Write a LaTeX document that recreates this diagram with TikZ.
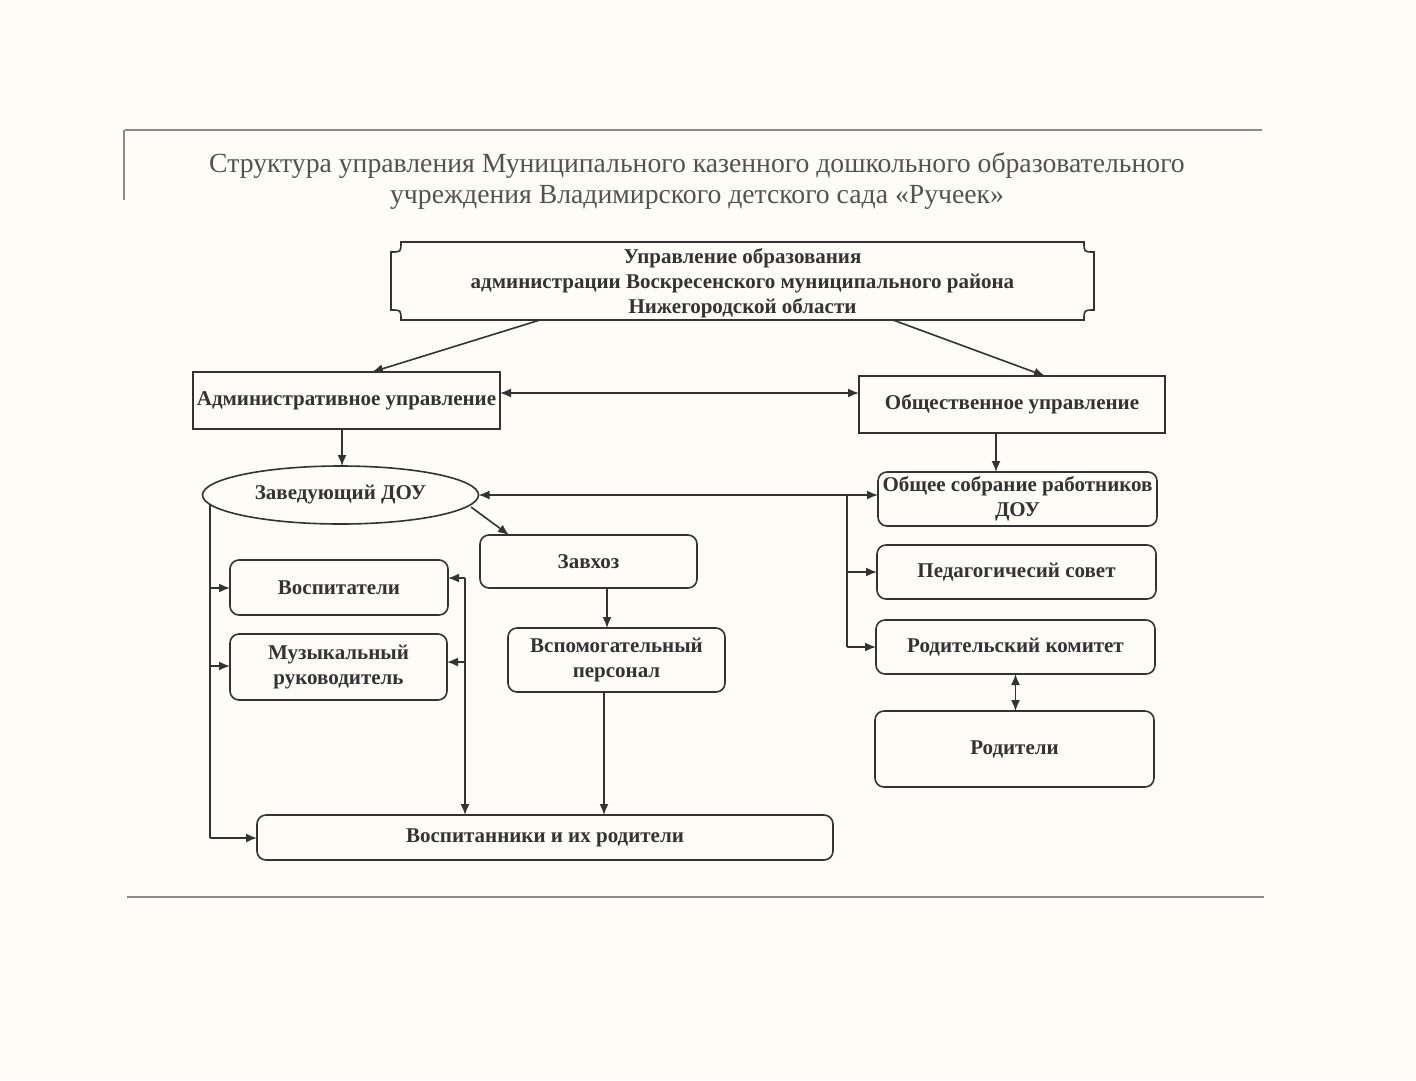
\documentclass[tikz,border=0pt]{standalone}
\usepackage{fontspec}
\setmainfont{Liberation Serif}
\usetikzlibrary{arrows.meta,shapes.geometric}
\definecolor{paper}{HTML}{FDFCF6}
\definecolor{ink}{HTML}{333333}
\definecolor{rule}{HTML}{8A8A8A}
\tikzset{
  box/.style={draw=ink, line width=1.6pt, inner sep=0pt, outer sep=0pt, align=center,
    text=ink, font=\bfseries\fontsize{21}{25}\selectfont},
  rbox/.style={box, rounded corners=9pt},
  conn/.style={draw=ink, line width=1.6pt},
  arr/.style={conn, -{Latex[length=11pt,width=9pt]}},
  darr/.style={conn, {Latex[length=11pt,width=9pt]}-{Latex[length=11pt,width=9pt]}},
}
\begin{document}
\begin{tikzpicture}[x=1pt,y=-1pt]
\fill[paper] (0,0) rectangle (1416,1080);
\useasboundingbox (0,0) rectangle (1416,1080);
% frame rules
\draw[rule, line width=1.6pt] (125,130) -- (1262,130);
\draw[rule, line width=1.2pt] (124,130) -- (124,200);
\draw[rule, line width=1.6pt] (127,897) -- (1264,897);
% title
\node[text=ink!85, font=\fontsize{27.7}{31}\selectfont, align=center] (title) at (697,181)
  {Структура управления Муниципального казенного дошкольного образовательного\\
   учреждения Владимирского детского сада «Ручеек»};
% top plaque
\node[box, draw=none, minimum width=703pt, minimum height=78pt] (top) at (742.5,283)
  {Управление образования\\администрации Воскресенского муниципального района\\Нижегородской области};
\draw[ink, line width=1.6pt]
  (401,242) -- (1084,242) .. controls (1084,252) .. (1094,252)
  -- (1094,310) .. controls (1084,310) .. (1084,320)
  -- (401,320) .. controls (401,310) .. (391,310)
  -- (391,252) .. controls (401,252) .. (401,242) -- cycle;
% boxes
\node[box, minimum width=307pt, minimum height=57pt] (admin) at (346.5,400.5) {Административное управление};
\node[box, minimum width=306pt, minimum height=57pt] (obsch) at (1012,404.5) {Общественное управление};
\node[box, ellipse, minimum width=276pt, minimum height=58pt] (zav) at (340.5,495) {Заведующий ДОУ};
\node[rbox, minimum width=217pt, minimum height=53pt] (zavhoz) at (588.5,561.5) {Завхоз};
\node[rbox, minimum width=217pt, minimum height=64pt] (vspom) at (616.5,660) {Вспомогательный\\персонал};
\node[rbox, minimum width=218pt, minimum height=55pt] (vosp) at (339,587.5) {Воспитатели};
\node[rbox, minimum width=217pt, minimum height=66pt] (muz) at (338.5,667) {Музыкальный\\руководитель};
\node[rbox, minimum width=576pt, minimum height=45pt] (vospit) at (545,837.5) {Воспитанники и их родители};
\node[rbox, minimum width=279pt, minimum height=54pt] (obshee) at (1017.5,499) {Общее собрание работников\\ДОУ};
\node[rbox, minimum width=279pt, minimum height=54pt] (ped) at (1016.5,572) {Педагогичесий совет};
\node[rbox, minimum width=279pt, minimum height=54pt] (rodkom) at (1015.5,647) {Родительский комитет};
\node[rbox, minimum width=279pt, minimum height=76pt] (rod) at (1014.5,749) {Родители};
% helper coordinates
\coordinate (t1) at (540,320);
\coordinate (t2) at (893,320);
\coordinate (z1) at (471,507);
\coordinate (L0) at (210,505);
\coordinate (L1) at (210,588);
\coordinate (L2) at (210,666);
\coordinate (L3) at (210,838);
\coordinate (R0) at (465,578);
\coordinate (R1) at (465,662);
\coordinate (J0) at (847,495);
\coordinate (J1) at (847,572);
\coordinate (J2) at (847,647);
% connectors
\draw[arr] (t1) -- ([xshift=25.5pt]admin.north);
\draw[arr] (t2) -- ([xshift=33pt]obsch.north);
\draw[darr] ([yshift=7.5pt]admin.east) -- ([yshift=7.5pt]admin.east -| obsch.west);
\draw[arr] ([xshift=-4.5pt]admin.south) -- ([xshift=-4.5pt]admin.south |- zav.north);
\draw[darr] (zav.east) -- (zav.east -| obshee.west);
\draw[conn] (J0) -- (J2);
\draw[arr] (J1) -- (J1 -| ped.west);
\draw[arr] (J2) -- (J2 -| rodkom.west);
\draw[arr] ([xshift=-16pt]obsch.south) -- ([xshift=-16pt]obsch.south |- obshee.north);
\draw[arr] (z1) -- ([xshift=29pt]zavhoz.north west);
\draw[arr] ([xshift=18.5pt]zavhoz.south) -- ([xshift=18.5pt]zavhoz.south |- vspom.north);
\draw[arr] ([xshift=-12.5pt]vspom.south) -- ([xshift=-12.5pt]vspom.south |- vospit.north);
\draw[conn] (L0) -- (L3);
\draw[arr] (L3) -- (L3 -| vospit.west);
\draw[arr] (L1) -- (L1 -| vosp.west);
\draw[arr] (L2) -- (L2 -| muz.west);
\draw[arr] (R0) -- (R0 |- vospit.north);
\draw[arr] (R0) -- (R0 -| vosp.east);
\draw[arr] (R1) -- (R1 -| muz.east);
\draw[darr] (rodkom.south) -- (rodkom.south |- rod.north);
\end{tikzpicture}
\end{document}
